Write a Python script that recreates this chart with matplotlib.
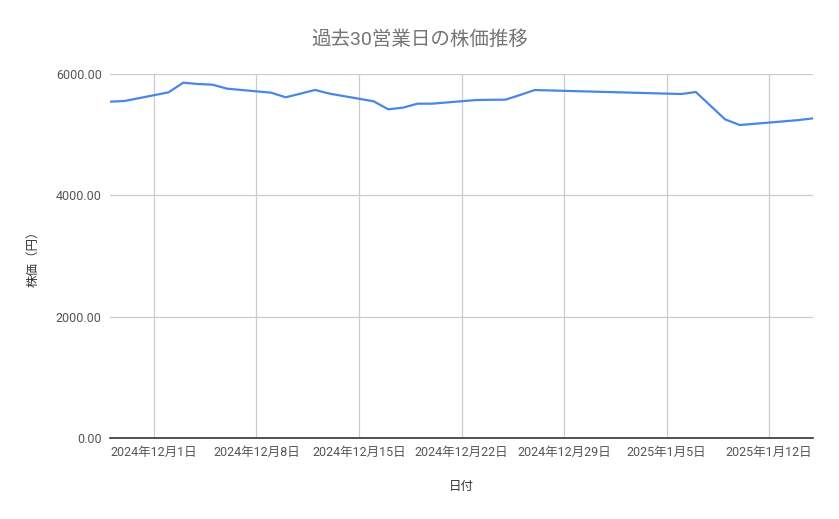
import matplotlib
matplotlib.use("Agg")
import matplotlib.pyplot as plt
import numpy as np
from datetime import datetime

plt.rcParams['font.family'] = ['Roboto', 'Noto Sans CJK JP', 'DejaVu Sans']

# data
dates = ["2024-11-28", "2024-11-29", "2024-12-02", "2024-12-03", "2024-12-04",
         "2024-12-05", "2024-12-06", "2024-12-09", "2024-12-10", "2024-12-11",
         "2024-12-12", "2024-12-13", "2024-12-16", "2024-12-17", "2024-12-18",
         "2024-12-19", "2024-12-20", "2024-12-23", "2024-12-24", "2024-12-25",
         "2024-12-26", "2024-12-27", "2025-01-06", "2025-01-07", "2025-01-09",
         "2025-01-10", "2025-01-14", "2025-01-15"]
prices = [5543, 5555, 5698, 5857, 5835,
          5824, 5758, 5692, 5616, 5676,
          5737, 5676, 5550, 5418, 5445,
          5511, 5511, 5571, 5575, 5577,
          5654, 5736, 5670, 5703, 5252,
          5159, 5240, 5269]
week_ticks = ["2024-12-01", "2024-12-08", "2024-12-15", "2024-12-22",
              "2024-12-29", "2025-01-05", "2025-01-12"]
yticks = [0, 2000, 4000, 6000]

x = [datetime.strptime(d, "%Y-%m-%d") for d in dates]
xt = [datetime.strptime(d, "%Y-%m-%d") for d in week_ticks]

fig = plt.figure(figsize=(8.39, 5.19), dpi=100)
ax = fig.add_axes([110/839, 81/519, 703/839, 364/519])

ax.plot(x, prices, color='#4a86e8', lw=1.6, zorder=3)

ax.set_xlim(x[0], x[-1])
ax.set_ylim(0, 6000)
ax.set_yticks(yticks)
ax.set_yticklabels([f"{v:.2f}" for v in yticks])
ax.set_xticks(xt)
ax.set_xticklabels([f"{d.year}年{d.month}月{d.day}日" for d in xt])

ax.grid(True, color='#cccccc', lw=0.9)
ax.set_axisbelow(True)
for s in ['top', 'right', 'left']:
    ax.spines[s].set_visible(False)
ax.spines['bottom'].set_color('#333333')
ax.spines['bottom'].set_linewidth(1.2)
ax.tick_params(length=0, labelsize=9, colors='#555555', pad=6)

ax.set_xlabel("日付", fontsize=9, color='#333333', labelpad=15)
ax.set_ylabel("株価（円）", fontsize=9, color='#333333', labelpad=12)
fig.text(0.5, 1 - 40/519, "過去30営業日の株価推移", ha='center', va='center',
         fontsize=14, color='#757575')

fig.savefig("out.png", dpi=100)
